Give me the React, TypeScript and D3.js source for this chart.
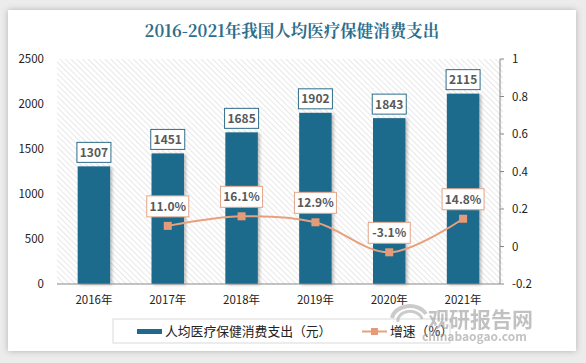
import React from 'react'
import * as d3 from 'd3'

const years = ['2016年', '2017年', '2018年', '2019年', '2020年', '2021年']
const spending = [1307, 1451, 1685, 1902, 1843, 2115]
const growth: (number | null)[] = [null, 0.11, 0.161, 0.129, -0.031, 0.148]
const leftTicks = [0, 500, 1000, 1500, 2000, 2500]
const rightTicks = [-0.2, 0, 0.2, 0.4, 0.6, 0.8, 1]

const W = 586
const H = 363
const m = { left: 57, right: 86, top: 59, bottom: 79 }

const barColor = '#1f6a8c'
const lineColor = '#e9a07e'
const sans = '"Noto Sans CJK SC", "Noto Sans", sans-serif'

export default function App() {
  const x = d3.scaleBand().domain(years).range([m.left, W - m.right]).paddingInner(0.56).paddingOuter(0.28)
  const yL = d3.scaleLinear().domain([0, 2500]).range([H - m.bottom, m.top])
  const yR = d3.scaleLinear().domain([-0.2, 1]).range([H - m.bottom, m.top])
  const cx = (y: string) => (x(y) as number) + x.bandwidth() / 2

  const pts = years.map((y, i) => ({ y, g: growth[i] })).filter(d => d.g !== null) as { y: string; g: number }[]
  const line = d3.line<{ y: string; g: number }>()
    .x(d => cx(d.y))
    .y(d => yR(d.g))
    .curve(d3.curveCatmullRom.alpha(0.5))

  const base = H - m.bottom
  const right = W - m.right

  return (
    <svg width={W} height={H} style={{ position: 'absolute', left: 0, top: 0 }} fontFamily={sans}>
      <defs>
        <pattern id="hatch" width="4" height="4" patternUnits="userSpaceOnUse" patternTransform="rotate(-45)">
          <line x1="0" y1="0" x2="0" y2="4" stroke="#d2d2d2" strokeWidth="1" />
        </pattern>
        <filter id="card" x="-5%" y="-5%" width="110%" height="110%">
          <feDropShadow dx="0" dy="0" stdDeviation="3" floodColor="#000" floodOpacity="0.25" />
        </filter>
        <filter id="bsh" x="-20%" y="-5%" width="150%" height="110%">
          <feDropShadow dx="2" dy="1" stdDeviation="1.5" floodColor="#000" floodOpacity="0.25" />
        </filter>
      </defs>
      <rect x={0} y={0} width={W} height={H} fill="#ececec" />
      <rect x={8} y={10} width={568} height={341} fill="#fff" filter="url(#card)" />

      <text x={292} y={37} textAnchor="middle" fontSize={16.5} fontWeight="bold" fill="#2e6e8c"
        fontFamily='"Noto Serif CJK SC", "Noto Sans CJK SC", serif'>2016-2021年我国人均医疗保健消费支出</text>

      <rect x={m.left} y={m.top} width={right + 3 - m.left} height={base - m.top} fill="url(#hatch)" />

      {/* left axis labels */}
      {leftTicks.map(t => (
        <text key={t} x={44} y={yL(t) + 4} textAnchor="end" fontSize={11.5} fill="#222">{t}</text>
      ))}
      {/* right axis */}
      <line x1={right} x2={right} y1={m.top} y2={base} stroke="#888" />
      {rightTicks.map(t => (
        <g key={t}>
          <line x1={right} x2={right + 4} y1={yR(t)} y2={yR(t)} stroke="#888" />
          <text x={right + 12} y={yR(t) + 4} fontSize={11.5} fill="#222">{t}</text>
        </g>
      ))}

      {/* bars */}
      {years.map((y, i) => (
        <rect key={y} x={x(y)} y={yL(spending[i])} width={x.bandwidth()} height={base - yL(spending[i])}
          fill={barColor} filter="url(#bsh)" />
      ))}
      <line x1={m.left} x2={right} y1={base} y2={base} stroke="#888" />

      {/* x labels */}
      {years.map(y => (
        <text key={y} x={cx(y)} y={base + 20} textAnchor="middle" fontSize={11.5} fill="#222">{y}</text>
      ))}

      {/* bar value labels */}
      {years.map((y, i) => (
        <g key={y}>
          <rect x={cx(y) - 17} y={yL(spending[i]) - 24} width={34} height={20} fill="#fff" stroke="#2f6c88" strokeWidth={1} />
          <text x={cx(y)} y={yL(spending[i]) - 9.5} textAnchor="middle" fontSize={12} fontWeight="bold" fill="#595959">{spending[i]}</text>
        </g>
      ))}

      {/* growth line */}
      <path d={line(pts) || ''} fill="none" stroke={lineColor} strokeWidth={2} />
      {pts.map(d => (
        <rect key={d.y} x={cx(d.y) - 4} y={yR(d.g) - 4} width={8} height={8} fill="#e69b78" />
      ))}
      {pts.map(d => (
        <g key={d.y}>
          <rect x={cx(d.y) - 21} y={yR(d.g) - 30} width={42} height={21} fill="#fff" stroke="#e2a48a" strokeWidth={1} />
          <text x={cx(d.y)} y={yR(d.g) - 15} textAnchor="middle" fontSize={12} fontWeight="bold" fill="#595959">
            {(d.g * 100).toFixed(1)}%
          </text>
        </g>
      ))}

      {/* legend */}
      <rect x={113} y={319} width={337} height={24} fill="#fff" stroke="#d9d9d9" />
      <rect x={137} y={329} width={25} height={5} fill={barColor} />
      <text x={165} y={336} fontSize={12.8} fill="#222">人均医疗保健消费支出（元）</text>
      <line x1={362} x2={387} y1={331.5} y2={331.5} stroke={lineColor} strokeWidth={2} />
      <rect x={371} y={328} width={7} height={7} fill="#e69b78" />
      <text x={390} y={336} fontSize={12.8} fill="#222">增速（%）</text>

      {/* watermark */}
      <g opacity={0.6}>
        <path d="M392,318 a18,14 0 0 1 34,-4" fill="none" stroke="#aaa" strokeWidth={4} />
        <path d="M398,322 a12,9 0 0 1 24,-3" fill="none" stroke="#aaa" strokeWidth={3} />
        <text x={428} y={327} fontSize={21} fontWeight="bold" fill="#999">观研报告网</text>
        <text x={422} y={341} fontSize={12} fontWeight="bold" fill="#999">chinabaogao.com</text>
      </g>
    </svg>
  )
}
